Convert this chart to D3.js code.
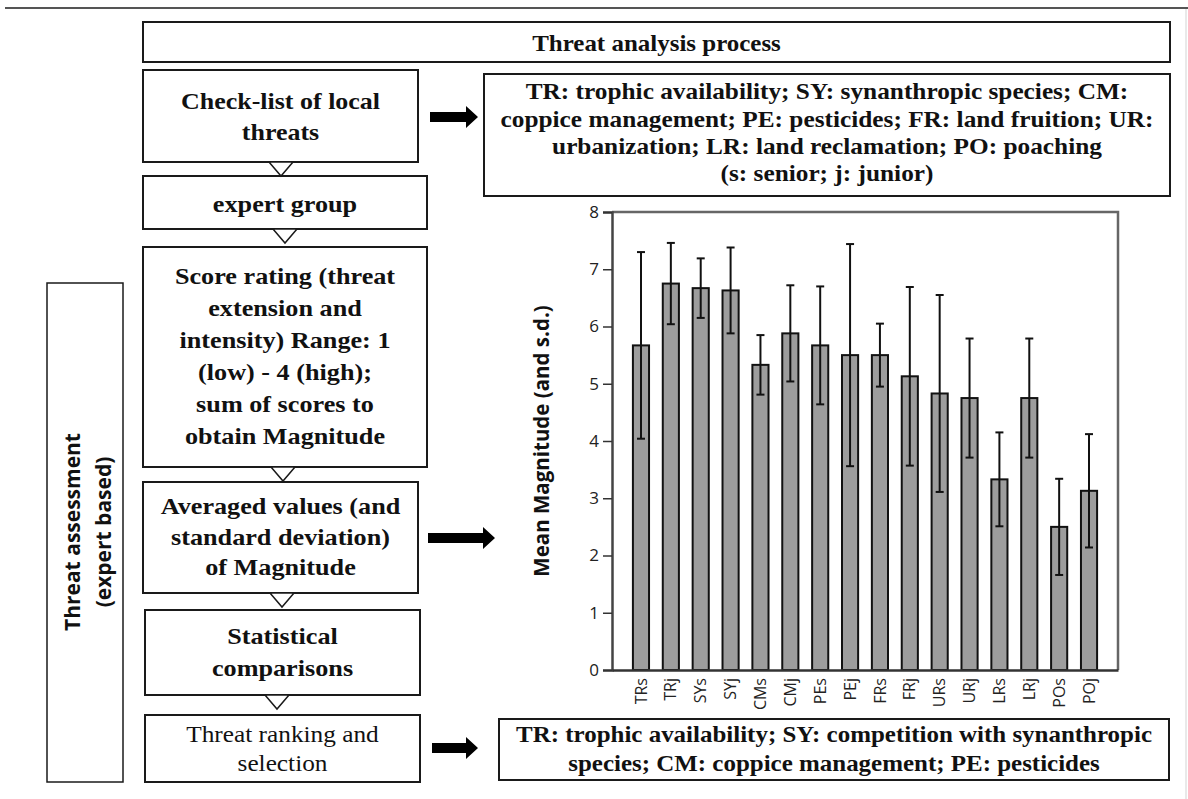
<!DOCTYPE html>
<html>
<head>
<meta charset="utf-8">
<script src="https://cdn.jsdelivr.net/npm/d3@7"></script>
<style>
  body { margin: 0; background: #fff; }
  svg { display: block; }
  .serif { font-family: "Liberation Serif", "Times New Roman", serif; fill: #111; }
  .sans { font-family: "Open Sans", "DejaVu Sans", sans-serif; fill: #111; }
  .box { fill: #fff; stroke: #1a1a1a; stroke-width: 2; }
</style>
</head>
<body>
<svg width="1188" height="799"></svg>
<script>
// chart data
const categories = ["TRs", "TRj", "SYs", "SYj", "CMs", "CMj", "PEs", "PEj", "FRs", "FRj", "URs", "URj", "LRs", "LRj", "POs", "POj"];
const means = [5.67, 6.75, 6.67, 6.63, 5.33, 5.88, 5.67, 5.50, 5.50, 5.13, 4.83, 4.75, 3.33, 4.75, 2.50, 3.13];
const sds = [1.63, 0.71, 0.52, 0.75, 0.52, 0.84, 1.03, 1.94, 0.55, 1.56, 1.72, 1.04, 0.82, 1.04, 0.84, 0.99];
const yTicks = [0, 1, 2, 3, 4, 5, 6, 7, 8];
const yLabel = "Mean Magnitude (and s.d.)";

// flow chart texts
const title = "Threat analysis process";
const checkList = ["Check-list of local", "threats"];
const expertGroup = ["expert group"];
const scoreRating = ["Score rating (threat", "extension and", "intensity) Range: 1", "(low) - 4 (high);", "sum of scores to", "obtain Magnitude"];
const averaged = ["Averaged values (and", "standard deviation)", "of Magnitude"];
const statistical = ["Statistical", "comparisons"];
const ranking = ["Threat ranking and", "selection"];
const legendTop = ["TR: trophic availability; SY: synanthropic species; CM:", "coppice management; PE: pesticides; FR: land fruition; UR:", "urbanization; LR: land reclamation; PO: poaching", "(s: senior; j: junior)"];
const legendBottom = ["TR: trophic availability; SY: competition with synanthropic", "species; CM: coppice management; PE: pesticides"];
const sideLabel = ["Threat assessment", "(expert based)"];

const svg = d3.select("svg");
const SX = 1.12; // the figure is a bit stretched horizontally

// draws a rectangle with centred lines of text inside
function drawBox(x0, y0, x1, y1, lines, lineYs, size, weight) {
    let g = svg.append("g");
    g.append("rect")
        .attr("class", "box")
        .attr("x", x0).attr("y", y0)
        .attr("width", x1 - x0).attr("height", y1 - y0);
    let cx = (x0 + x1) / 2;
    lines.forEach((t, i) => {
        g.append("text")
            .attr("class", "serif")
            .attr("transform", `translate(${cx},${lineYs[i]}) scale(${SX},1)`)
            .attr("text-anchor", "middle")
            .attr("dominant-baseline", "central")
            .style("font-size", size + "px")
            .style("font-weight", weight)
            .text(t);
    });
}

function drawTriangle(cx, y) {
    svg.append("path")
        .attr("d", `M${cx - 12},${y} L${cx + 12},${y} L${cx},${y + 14} Z`)
        .attr("fill", "#fff")
        .attr("stroke", "#1a1a1a")
        .attr("stroke-width", 1.5);
}

function drawArrow(x0, x1, y) {
    svg.append("path")
        .attr("d", `M${x0},${y - 5} L${x1 - 12},${y - 5} L${x1 - 12},${y - 11} L${x1},${y} L${x1 - 12},${y + 11} L${x1 - 12},${y + 5} L${x0},${y + 5} Z`)
        .attr("fill", "#000");
}

// top rule and faint right edge
svg.append("line").attr("x1", 5).attr("x2", 1188).attr("y1", 8).attr("y2", 8)
    .attr("stroke", "#555").attr("stroke-width", 2);
svg.append("line").attr("x1", 1186).attr("x2", 1186).attr("y1", 9).attr("y2", 799)
    .attr("stroke", "#e2e2e2").attr("stroke-width", 1.5);

// flow chart
drawBox(143, 22, 1170, 62, [title], [43], 22.3, "bold");
drawBox(143, 70, 418, 162, checkList, [101, 132], 23.2, "bold");
drawBox(143, 176, 427, 229, expertGroup, [204], 23.4, "bold");
drawBox(143, 247, 427, 467, scoreRating, [276, 308, 340, 372, 404, 436], 23.4, "bold");
drawBox(143, 482, 418, 593, averaged, [506, 537, 567], 23.4, "bold");
drawBox(145, 610, 420, 695, statistical, [636, 668], 23.4, "bold");
drawBox(145, 715, 420, 782, ranking, [734, 763], 22.6, "normal");
drawBox(484, 74, 1170, 196, legendTop, [91, 119, 146, 173], 22.6, "bold");
drawBox(499, 719, 1169, 780, legendBottom, [734, 763], 22.3, "bold");

drawTriangle(281, 162);
drawTriangle(285, 229);
drawTriangle(283, 467);
drawTriangle(282, 593);
drawTriangle(277, 695);

drawArrow(430, 478, 117);
drawArrow(428, 495, 538);
drawArrow(432, 478, 748);

// side box
svg.append("rect").attr("class", "box")
    .attr("x", 47).attr("y", 283).attr("width", 76).attr("height", 499)
    .style("stroke-width", 1.5);
sideLabel.forEach((t, i) => {
    svg.append("text")
        .attr("class", "sans")
        .attr("transform", `translate(${72 + i * 31},532) rotate(-90)`)
        .attr("text-anchor", "middle")
        .attr("dominant-baseline", "central")
        .style("font-size", "21px")
        .style("font-weight", "bold")
        .text(t);
});

// bar chart
const plot = { left: 612, right: 1118, top: 212, bottom: 670 };

let x = d3.scaleBand()
    .domain(categories)
    .range([plot.left, plot.right])
    .paddingInner(0.46)
    .paddingOuter(0.7);

let y = d3.scaleLinear()
    .domain([0, 8])
    .range([plot.bottom, plot.top]);

let barData = categories.map((c, i) => ({ cat: c, mean: means[i], sd: sds[i] }));

// frame top and right
svg.append("path")
    .attr("d", `M${plot.left},${plot.top} L${plot.right},${plot.top} L${plot.right},${plot.bottom}`)
    .attr("fill", "none").attr("stroke", "#666").attr("stroke-width", 2.5);

svg.selectAll(".bar")
    .data(barData)
    .enter()
    .append("rect")
    .attr("class", "bar")
    .attr("x", d => x(d.cat))
    .attr("y", d => y(d.mean))
    .attr("width", x.bandwidth())
    .attr("height", d => y(0) - y(d.mean))
    .attr("fill", "#9d9d9d")
    .attr("stroke", "#111")
    .attr("stroke-width", 2);

let err = svg.selectAll(".err")
    .data(barData)
    .enter()
    .append("g")
    .attr("class", "err")
    .attr("stroke", "#111")
    .attr("stroke-width", 2);
err.append("line")
    .attr("x1", d => x(d.cat) + x.bandwidth() / 2)
    .attr("x2", d => x(d.cat) + x.bandwidth() / 2)
    .attr("y1", d => y(d.mean + d.sd))
    .attr("y2", d => y(d.mean - d.sd));
err.selectAll(".cap")
    .data(d => [d.mean + d.sd, d.mean - d.sd].map(v => ({ cat: d.cat, v: v })))
    .enter()
    .append("line")
    .attr("x1", d => x(d.cat) + x.bandwidth() / 2 - 4)
    .attr("x2", d => x(d.cat) + x.bandwidth() / 2 + 4)
    .attr("y1", d => y(d.v))
    .attr("y2", d => y(d.v));

// axes
let yAxis = svg.append("g")
    .attr("transform", `translate(${plot.left},0)`)
    .call(d3.axisLeft(y).tickValues(yTicks).tickSize(9).tickPadding(4).tickFormat(d3.format("d")));
yAxis.select(".domain").attr("stroke", "#444").attr("stroke-width", 2.5);
yAxis.selectAll(".tick line").attr("stroke", "#333").attr("stroke-width", 1.5);
yAxis.selectAll(".tick text")
    .attr("class", "sans")
    .style("font-size", "17px")
    .style("fill", "#222");

let xAxis = svg.append("g")
    .attr("transform", `translate(0,${plot.bottom})`)
    .call(d3.axisBottom(x).tickSize(0).tickPadding(0));
xAxis.select(".domain").attr("stroke", "#333").attr("stroke-width", 2.5);
xAxis.selectAll(".tick text")
    .attr("class", "sans")
    .attr("transform", "rotate(-90)")
    .attr("x", -8)
    .attr("y", 0)
    .attr("dy", "0.35em")
    .attr("text-anchor", "end")
    .style("font-size", "16px")
    .style("fill", "#222");

svg.append("text")
    .attr("class", "sans")
    .attr("transform", `translate(541,${(plot.top + plot.bottom) / 2}) rotate(-90)`)
    .attr("text-anchor", "middle")
    .attr("dominant-baseline", "central")
    .style("font-size", "20.5px")
    .style("font-weight", "bold")
    .text(yLabel);
</script>
</body>
</html>
